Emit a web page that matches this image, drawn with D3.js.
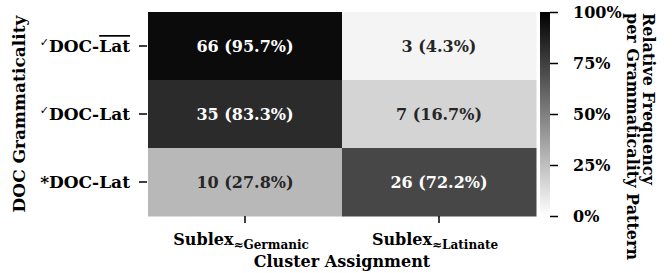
<!DOCTYPE html>
<html>
<head>
<meta charset="utf-8">
<script src="https://cdn.jsdelivr.net/npm/d3@7"></script>
<style>
  body { margin: 0; background: #fff; }
  text { font-family: "DejaVu Serif", serif; font-weight: bold; }
</style>
</head>
<body>
<div id="chart"></div>
<script>
// data
const rowKeys = ["checkBar", "check", "star"]
const colKeys = ["Germanic", "Latinate"]
const counts = [[66, 3], [35, 7], [10, 26]]
const percents = [[95.7, 4.3], [83.3, 16.7], [27.8, 72.2]]
const cbarTicks = [0, 0.25, 0.5, 0.75, 1]

const width = 672
const height = 273
const margin = { top: 12, left: 148, right: 136, bottom: 57 }

const svg = d3.select('#chart')
    .append('svg')
    .attr('width', width)
    .attr('height', height)

const x = d3.scaleBand()
    .domain(colKeys)
    .range([margin.left, width - margin.right])

const y = d3.scaleBand()
    .domain(rowKeys)
    .range([margin.top, height - margin.bottom])

//linear grey, white -> black
const grey = d3.interpolateRgb('#ffffff', '#000000')
const color = v => grey(v / 100)

//cells
const cells = []
rowKeys.forEach((r, i) => {
    colKeys.forEach((c, j) => {
        cells.push({ r, c, n: counts[i][j], p: percents[i][j] })
    })
})

svg.append('g')
    .selectAll('rect')
    .data(cells)
    .join('rect')
    .attr('x', d => x(d.c))
    .attr('y', d => y(d.r))
    .attr('width', x.bandwidth() + 0.5)
    .attr('height', y.bandwidth() + 0.5)
    .attr('fill', d => color(d.p))

svg.append('g')
    .selectAll('text')
    .data(cells)
    .join('text')
    .attr('x', d => x(d.c) + x.bandwidth() / 2)
    .attr('y', d => y(d.r) + y.bandwidth() / 2)
    .attr('text-anchor', 'middle')
    .attr('dy', '0.36em')
    .attr('font-size', 16)
    .attr('fill', d => d.p > 50 ? '#ffffff' : '#262626')
    .text(d => `${d.n} (${d.p.toFixed(1)}%)`)

//y axis
const yAxis = svg.append('g')
    .attr('transform', `translate(${margin.left - 1},0)`)
    .call(d3.axisLeft(y).tickSize(8).tickFormat(''))
yAxis.select('.domain').remove()
yAxis.selectAll('.tick line').attr('stroke', '#000').attr('stroke-width', 1.5)

yAxis.selectAll('.tick').each(function (d) {
    const t = d3.select(this).append('text')
        .attr('x', -17)
        .attr('y', 6)
        .attr('text-anchor', 'end')
        .attr('font-size', 17)
        .attr('fill', '#000')
    if (d === 'star') {
        t.append('tspan').text('*DOC-Lat')
    } else {
        t.append('tspan').attr('font-size', 11).attr('dy', -6)
            .attr('font-family', 'DejaVu Sans').text('✓')
        t.append('tspan').attr('dy', 6).text('DOC-')
        const lat = t.append('tspan').text('Lat')
        if (d === 'checkBar') lat.style('text-decoration', 'overline')
    }
})

//x axis
const xAxis = svg.append('g')
    .attr('transform', `translate(0,${height - margin.bottom})`)
    .call(d3.axisBottom(x).tickSize(7).tickFormat(''))
xAxis.select('.domain').remove()
xAxis.selectAll('.tick line').attr('stroke', '#000').attr('stroke-width', 1.5)
xAxis.selectAll('.tick').each(function (d) {
    const t = d3.select(this).append('text')
        .attr('x', -4)
        .attr('y', 29)
        .attr('text-anchor', 'middle')
        .attr('font-size', 16)
        .attr('fill', '#000')
    t.append('tspan').text('Sublex')
    t.append('tspan').attr('font-size', 12).attr('dy', 4).text('≈' + d)
})

svg.append('text')
    .attr('x', (margin.left + width - margin.right) / 2)
    .attr('y', 267)
    .attr('text-anchor', 'middle')
    .attr('font-size', 16)
    .text('Cluster Assignment')

svg.append('text')
    .attr('transform', `translate(25,${(margin.top + height - margin.bottom) / 2}) rotate(-90)`)
    .attr('text-anchor', 'middle')
    .attr('font-size', 17)
    .text('DOC Grammaticality')

//colorbar
const cbX = 540, cbW = 10
const grad = svg.append('defs').append('linearGradient')
    .attr('id', 'cb').attr('x1', 0).attr('x2', 0).attr('y1', 1).attr('y2', 0)
grad.append('stop').attr('offset', 0).attr('stop-color', grey(0))
grad.append('stop').attr('offset', 1).attr('stop-color', grey(1))
svg.append('rect')
    .attr('x', cbX).attr('y', margin.top)
    .attr('width', cbW).attr('height', height - margin.bottom - margin.top)
    .attr('fill', 'url(#cb)')

const cb = d3.scaleLinear().domain([0, 1]).range([height - margin.bottom, margin.top])
const cbAxis = svg.append('g')
    .attr('transform', `translate(${cbX + cbW},0)`)
    .call(d3.axisRight(cb).tickValues(cbarTicks).tickSize(8).tickPadding(15)
        .tickFormat(d => Math.round(d * 100) + '%'))
cbAxis.select('.domain').remove()
cbAxis.selectAll('.tick line').attr('stroke', '#000').attr('stroke-width', 1.5)
cbAxis.selectAll('.tick text').attr('font-size', 16).attr('fill', '#000')
    .attr('font-family', '"DejaVu Serif", serif')

const cbLabel = svg.append('text')
    .attr('transform', `translate(643,13) rotate(90)`)
    .attr('font-size', 16)
cbLabel.append('tspan').attr('x', 0).attr('y', 0).text('Relative Frequency')
cbLabel.append('tspan').attr('x', 0).attr('y', 16).text('per Grammaticality Pattern')
</script>
</body>
</html>
